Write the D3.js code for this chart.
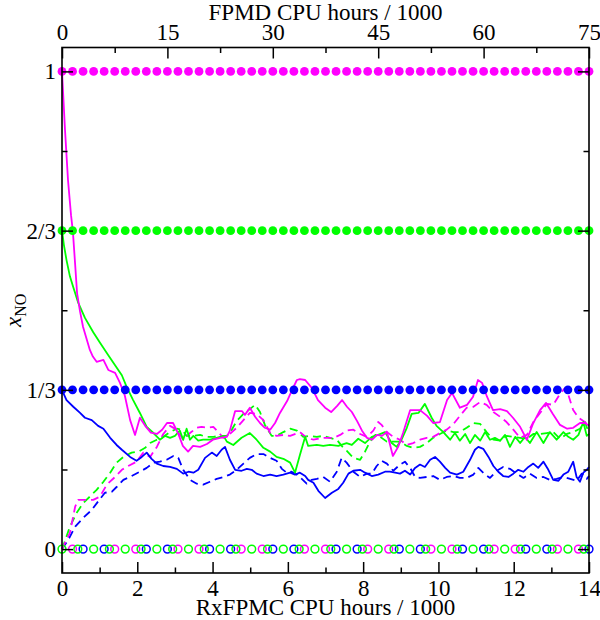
<!DOCTYPE html>
<html><head><meta charset="utf-8">
<script src="https://cdn.jsdelivr.net/npm/d3@7"></script>
<style>html,body{margin:0;padding:0;background:#fff;}svg{display:block;}</style>
</head><body>
<div id="chart"></div>
<script>
// ---------------- data ----------------
const bottomTicks = [0, 2, 4, 6, 8, 10, 12, 14];
const bottomMinor = [1, 3, 5, 7, 9, 11, 13];
const topTicks = [0, 15, 30, 45, 60, 75];
const topMinor = [7.5, 22.5, 37.5, 52.5, 67.5];
const yTicks = [0, 1/3, 2/3, 1];
const yTickLabels = ["0", "1/3", "2/3", "1"];
const yMinor = [1/6, 1/2, 5/6];

// FPMD fixed-composition markers (x positions, RxFPMC hours/1000)
const dotX = [0,0.28,0.56,0.84,1.12,1.4,1.68,1.96,2.24,2.52,2.8,3.08,3.36,3.64,3.92,4.2,4.48,4.76,5.04,5.32,5.6,5.88,6.16,6.44,6.72,7,7.28,7.56,7.84,8.12,8.4,8.68,8.96,9.24,9.52,9.8,10.08,10.36,10.64,10.92,11.2,11.48,11.76,12.04,12.32,12.6,12.88,13.16,13.44,13.72,14];
const dotLevels = [1, 2/3, 1/3];
const zeroGreenX = [0,0.42,0.84,1.26,1.68,2.1,2.52,2.94,3.36,3.78,4.2,4.62,5.04,5.46,5.88,6.3,6.72,7.14,7.56,7.98,8.4,8.82,9.24,9.66,10.08,10.5,10.92,11.34,11.76,12.18,12.6,13.02,13.44,13.86];
const zeroBlueX = [0.56,1.12,2.24,2.8,3.92,4.48,5.6,6.16,7.28,7.84,8.96,9.52,10.64,11.2,12.32,12.88,14];
const zeroMagentaX = [0.28,1.4,1.96,3.08,3.64,4.76,5.32,6.44,7.0,8.12,8.68,9.8,10.36,11.48,12.04,13.16,13.72];

// RxFPMC series [hours/1000, x_NO]
const magentaSolid = [[0,1.0],[0.08,0.877],[0.16,0.772],[0.24,0.699],[0.29,0.664],[0.35,0.595],[0.40,0.536],[0.48,0.497],[0.56,0.465],[0.66,0.438],[0.74,0.417],[0.82,0.403],[0.92,0.392],[1.10,0.396],[1.23,0.375],[1.41,0.369],[1.54,0.348],[1.67,0.321],[1.81,0.270],[1.94,0.239],[2.07,0.275],[2.21,0.258],[2.36,0.244],[2.52,0.241],[2.66,0.250],[2.79,0.264],[2.95,0.264],[3.08,0.243],[3.21,0.216],[3.35,0.204],[3.48,0.216],[3.67,0.214],[3.85,0.220],[4.01,0.229],[4.20,0.233],[4.38,0.235],[4.46,0.248],[4.60,0.289],[4.78,0.289],[4.86,0.281],[4.99,0.296],[5.13,0.277],[5.26,0.264],[5.39,0.254],[5.53,0.250],[5.66,0.264],[5.79,0.285],[5.98,0.310],[6.11,0.333],[6.24,0.354],[6.32,0.356],[6.46,0.354],[6.64,0.337],[6.80,0.312],[6.99,0.296],[7.15,0.287],[7.31,0.300],[7.44,0.312],[7.57,0.298],[7.70,0.287],[7.84,0.268],[7.97,0.248],[8.10,0.233],[8.24,0.229],[8.37,0.239],[8.50,0.237],[8.63,0.245],[8.79,0.195],[8.93,0.214],[9.06,0.243],[9.25,0.291],[9.51,0.291],[9.70,0.279],[9.86,0.264],[10.04,0.266],[10.23,0.312],[10.36,0.327],[10.57,0.296],[10.76,0.302],[10.92,0.319],[11.05,0.354],[11.16,0.348],[11.29,0.319],[11.45,0.291],[11.64,0.293],[11.82,0.289],[11.98,0.275],[12.17,0.256],[12.35,0.229],[12.51,0.262],[12.70,0.291],[12.86,0.306],[13.04,0.283],[13.23,0.260],[13.42,0.252],[13.58,0.254],[13.76,0.264],[13.89,0.264],[14,0.258]];

const greenSolid = [[0,0.667],[0.05,0.637],[0.12,0.605],[0.21,0.571],[0.30,0.548],[0.43,0.516],[0.61,0.484],[0.83,0.454],[1.01,0.432],[1.23,0.406],[1.41,0.385],[1.59,0.364],[1.72,0.339],[1.89,0.312],[2.07,0.285],[2.25,0.256],[2.43,0.243],[2.60,0.229],[2.74,0.237],[2.87,0.233],[3.00,0.237],[3.13,0.248],[3.22,0.229],[3.31,0.252],[3.40,0.229],[3.49,0.237],[3.62,0.227],[3.75,0.229],[3.93,0.229],[4.11,0.233],[4.29,0.237],[4.38,0.225],[4.55,0.218],[4.77,0.233],[4.99,0.243],[5.17,0.229],[5.35,0.212],[5.53,0.204],[5.70,0.193],[5.88,0.189],[6.06,0.181],[6.19,0.160],[6.32,0.197],[6.46,0.235],[6.54,0.216],[6.77,0.218],[6.94,0.216],[7.12,0.218],[7.34,0.216],[7.56,0.222],[7.70,0.218],[7.87,0.231],[8.05,0.222],[8.23,0.235],[8.40,0.239],[8.58,0.245],[8.76,0.222],[8.89,0.214],[9.02,0.229],[9.16,0.254],[9.29,0.283],[9.47,0.285],[9.64,0.304],[9.82,0.275],[9.95,0.258],[10.13,0.245],[10.31,0.229],[10.44,0.243],[10.57,0.227],[10.71,0.241],[10.84,0.222],[10.97,0.239],[11.11,0.227],[11.24,0.245],[11.37,0.229],[11.50,0.233],[11.64,0.227],[11.77,0.239],[11.90,0.214],[12.04,0.235],[12.17,0.222],[12.30,0.235],[12.43,0.222],[12.61,0.245],[12.79,0.222],[12.96,0.245],[13.14,0.229],[13.32,0.245],[13.45,0.235],[13.58,0.229],[13.72,0.239],[13.85,0.266],[13.94,0.237],[14,0.241]];

const blueSolid = [[0,0.333],[0.12,0.312],[0.30,0.298],[0.48,0.285],[0.61,0.275],[0.79,0.270],[0.96,0.258],[1.10,0.252],[1.28,0.233],[1.45,0.218],[1.59,0.208],[1.81,0.193],[1.98,0.185],[2.12,0.193],[2.25,0.202],[2.38,0.189],[2.52,0.179],[2.69,0.174],[2.87,0.172],[3.05,0.168],[3.22,0.158],[3.36,0.162],[3.49,0.160],[3.62,0.166],[3.80,0.191],[3.98,0.202],[4.11,0.195],[4.24,0.208],[4.33,0.214],[4.46,0.187],[4.60,0.166],[4.77,0.164],[4.91,0.168],[5.04,0.166],[5.17,0.158],[5.35,0.153],[5.53,0.156],[5.70,0.153],[5.88,0.156],[6.06,0.160],[6.19,0.156],[6.32,0.160],[6.46,0.153],[6.54,0.145],[6.68,0.139],[6.81,0.122],[6.99,0.107],[7.17,0.118],[7.34,0.126],[7.47,0.139],[7.61,0.158],[7.74,0.164],[7.92,0.166],[8.05,0.160],[8.23,0.153],[8.40,0.156],[8.58,0.162],[8.71,0.162],[8.85,0.160],[8.98,0.158],[9.11,0.164],[9.25,0.156],[9.38,0.170],[9.51,0.177],[9.64,0.172],[9.78,0.187],[9.91,0.193],[10.04,0.183],[10.18,0.170],[10.31,0.160],[10.49,0.156],[10.66,0.162],[10.84,0.187],[10.97,0.208],[11.06,0.214],[11.19,0.210],[11.33,0.193],[11.46,0.174],[11.59,0.162],[11.72,0.153],[11.86,0.151],[11.99,0.158],[12.12,0.166],[12.26,0.162],[12.39,0.172],[12.52,0.179],[12.65,0.170],[12.79,0.183],[12.92,0.166],[13.05,0.145],[13.19,0.143],[13.32,0.156],[13.45,0.162],[13.58,0.183],[13.67,0.151],[13.76,0.141],[13.85,0.160],[13.94,0.166],[14,0.172]];

const magentaDashed = [[0,0],[0.11,0.018],[0.21,0.034],[0.35,0.089],[0.43,0.103],[0.61,0.103],[0.83,0.103],[1.01,0.110],[1.19,0.135],[1.41,0.151],[1.59,0.166],[1.76,0.174],[1.98,0.183],[2.16,0.202],[2.34,0.193],[2.52,0.214],[2.69,0.241],[2.87,0.258],[3.05,0.250],[3.22,0.229],[3.40,0.243],[3.58,0.254],[3.71,0.256],[3.84,0.254],[4.02,0.256],[4.15,0.245],[4.29,0.233],[4.46,0.241],[4.64,0.254],[4.82,0.270],[4.99,0.285],[5.17,0.283],[5.35,0.270],[5.53,0.243],[5.70,0.237],[5.88,0.239],[6.06,0.237],[6.32,0.245],[6.50,0.233],[6.68,0.229],[6.94,0.233],[7.21,0.233],[7.39,0.239],[7.56,0.248],[7.74,0.250],[7.92,0.241],[8.10,0.235],[8.27,0.248],[8.40,0.266],[8.49,0.260],[8.63,0.245],[8.80,0.235],[8.98,0.229],[9.16,0.218],[9.33,0.222],[9.51,0.229],[9.69,0.233],[9.86,0.235],[10.04,0.243],[10.22,0.250],[10.40,0.262],[10.57,0.279],[10.75,0.296],[10.93,0.298],[11.11,0.308],[11.28,0.302],[11.46,0.287],[11.64,0.277],[11.81,0.266],[11.99,0.250],[12.17,0.233],[12.35,0.239],[12.52,0.266],[12.70,0.285],[12.88,0.304],[13.05,0.302],[13.23,0.325],[13.36,0.337],[13.45,0.323],[13.58,0.291],[13.72,0.275],[13.85,0.268],[14,0.260]];

const greenDashed = [[0,0],[0.03,0.006],[0.21,0.047],[0.39,0.076],[0.57,0.097],[0.74,0.110],[0.92,0.124],[1.10,0.141],[1.28,0.160],[1.45,0.181],[1.63,0.193],[1.85,0.202],[2.03,0.204],[2.21,0.212],[2.34,0.222],[2.52,0.229],[2.69,0.235],[2.87,0.245],[3.05,0.252],[3.18,0.250],[3.31,0.237],[3.49,0.237],[3.67,0.239],[3.84,0.235],[4.02,0.235],[4.20,0.237],[4.38,0.237],[4.51,0.250],[4.64,0.268],[4.82,0.283],[4.99,0.293],[5.13,0.302],[5.26,0.287],[5.39,0.260],[5.57,0.237],[5.70,0.237],[5.88,0.245],[6.06,0.252],[6.24,0.248],[6.41,0.235],[6.59,0.237],[6.77,0.235],[6.94,0.237],[7.12,0.233],[7.30,0.229],[7.43,0.216],[7.56,0.206],[7.74,0.191],[7.92,0.187],[8.05,0.204],[8.18,0.225],[8.32,0.239],[8.45,0.235],[8.63,0.225],[8.80,0.225],[8.98,0.225],[9.16,0.216],[9.33,0.212],[9.51,0.214],[9.69,0.222],[9.86,0.233],[10.04,0.241],[10.22,0.248],[10.40,0.245],[10.57,0.245],[10.75,0.254],[10.93,0.264],[11.11,0.262],[11.28,0.245],[11.46,0.229],[11.64,0.227],[11.81,0.237],[11.99,0.235],[12.17,0.233],[12.35,0.231],[12.52,0.241],[12.70,0.241],[12.88,0.243],[13.05,0.245],[13.23,0.231],[13.41,0.241],[13.58,0.245],[13.76,0.252],[13.89,0.266],[14,0.243]];

const blueDashed = [[0,0],[0.17,0.020],[0.35,0.047],[0.57,0.066],[0.79,0.082],[1.01,0.105],[1.14,0.118],[1.32,0.120],[1.45,0.130],[1.63,0.145],[1.85,0.153],[2.07,0.162],[2.25,0.170],[2.43,0.181],[2.60,0.183],[2.78,0.187],[2.96,0.195],[3.09,0.191],[3.22,0.166],[3.40,0.145],[3.58,0.137],[3.75,0.135],[3.93,0.141],[4.11,0.147],[4.29,0.151],[4.46,0.156],[4.64,0.166],[4.82,0.179],[4.99,0.191],[5.17,0.199],[5.35,0.199],[5.53,0.191],[5.70,0.185],[5.84,0.168],[5.97,0.160],[6.10,0.162],[6.24,0.156],[6.37,0.147],[6.50,0.137],[6.63,0.145],[6.77,0.147],[6.94,0.151],[7.12,0.141],[7.30,0.162],[7.43,0.191],[7.56,0.181],[7.74,0.162],[7.92,0.151],[8.10,0.158],[8.23,0.158],[8.36,0.174],[8.49,0.185],[8.63,0.179],[8.80,0.164],[8.98,0.177],[9.11,0.183],[9.25,0.170],[9.38,0.151],[9.51,0.149],[9.69,0.151],[9.86,0.153],[10.04,0.145],[10.22,0.151],[10.40,0.153],[10.57,0.149],[10.75,0.149],[10.93,0.156],[11.06,0.170],[11.24,0.156],[11.37,0.149],[11.55,0.164],[11.72,0.172],[11.90,0.168],[12.08,0.158],[12.26,0.149],[12.43,0.158],[12.61,0.149],[12.79,0.151],[12.96,0.145],[13.14,0.147],[13.32,0.151],[13.50,0.147],[13.67,0.143],[13.81,0.158],[13.94,0.147],[14,0.153]];

const colors = { magenta: "#ff00ff", green: "#00ff00", blue: "#0000ff" };

// ---------------- drawing ----------------
const W = 600, H = 620;
const L = 62, R = 589, T = 47.5, B = 573;
const svg = d3.select("#chart").append("svg").attr("width", W).attr("height", H);
const font = "'Liberation Serif', 'Times New Roman', serif";

const x = d3.scaleLinear().domain([0, 14]).range([L, R]);
const xTop = d3.scaleLinear().domain([0, 75]).range([L, R]);
const y = d3.scaleLinear().domain([-0.05, 1.05]).range([B, T]);

const line = d3.line().x(d => x(d[0])).y(d => y(d[1]));

const series = [
  { data: blueDashed, color: colors.blue, dash: "8,5" },
  { data: greenDashed, color: colors.green, dash: "8,5" },
  { data: magentaDashed, color: colors.magenta, dash: "8,5" },
  { data: blueSolid, color: colors.blue, dash: null },
  { data: greenSolid, color: colors.green, dash: null },
  { data: magentaSolid, color: colors.magenta, dash: null }
];
svg.append("g").selectAll("path").data(series).join("path")
  .attr("d", d => line(d.data))
  .attr("fill", "none")
  .attr("stroke", d => d.color)
  .attr("stroke-width", 1.8)
  .attr("stroke-linejoin", "round")
  .attr("stroke-dasharray", d => d.dash);

// filled marker rows
const rowColors = [colors.magenta, colors.green, colors.blue];
dotLevels.forEach((lv, i) => {
  svg.append("g").selectAll("circle").data(dotX).join("circle")
    .attr("cx", d => x(d)).attr("cy", y(lv)).attr("r", 4.4)
    .attr("fill", rowColors[i]);
});

// open markers at zero
[[zeroMagentaX, colors.magenta], [zeroBlueX, colors.blue], [zeroGreenX, colors.green]].forEach(([arr, c]) => {
  svg.append("g").selectAll("circle").data(arr).join("circle")
    .attr("cx", d => x(d)).attr("cy", y(0)).attr("r", 3.9)
    .attr("fill", "none").attr("stroke", c).attr("stroke-width", 1.5);
});

// axes
function styleAxis(g) {
  g.select(".domain").remove();
  g.selectAll(".tick line").attr("stroke", "#000").attr("stroke-width", 1.5);
  g.selectAll(".tick text").attr("font-family", font).attr("font-size", 23).attr("fill", "#000");
}
const major = 11, minor = 5.5;
svg.append("g").attr("transform", `translate(0,${B})`)
  .call(d3.axisBottom(x).tickValues(bottomTicks).tickSize(-major).tickSizeOuter(0).tickPadding(7).tickFormat(d3.format("d")))
  .call(styleAxis);
svg.append("g").attr("transform", `translate(0,${B})`)
  .call(d3.axisBottom(x).tickValues(bottomMinor).tickSize(-minor).tickSizeOuter(0).tickFormat(""))
  .call(styleAxis);
svg.append("g").attr("transform", `translate(0,${T})`)
  .call(d3.axisTop(xTop).tickValues(topTicks).tickSize(-major).tickSizeOuter(0).tickPadding(7.5).tickFormat(d3.format("d")))
  .call(styleAxis);
svg.append("g").attr("transform", `translate(0,${T})`)
  .call(d3.axisTop(xTop).tickValues(topMinor).tickSize(-minor).tickSizeOuter(0).tickFormat(""))
  .call(styleAxis);
svg.append("g").attr("transform", `translate(${L},0)`)
  .call(d3.axisLeft(y).tickValues(yTicks).tickSize(-major).tickSizeOuter(0).tickPadding(6)
    .tickFormat((d, i) => yTickLabels[i]))
  .call(styleAxis);
svg.append("g").attr("transform", `translate(${L},0)`)
  .call(d3.axisLeft(y).tickValues(yMinor).tickSize(-minor).tickSizeOuter(0).tickFormat(""))
  .call(styleAxis);
svg.append("g").attr("transform", `translate(${R},0)`)
  .call(d3.axisRight(y).tickValues(yTicks).tickSize(-major).tickSizeOuter(0).tickFormat(""))
  .call(styleAxis);
svg.append("g").attr("transform", `translate(${R},0)`)
  .call(d3.axisRight(y).tickValues(yMinor).tickSize(-minor).tickSizeOuter(0).tickFormat(""))
  .call(styleAxis);

// frame
svg.append("rect").attr("x", L).attr("y", T).attr("width", R - L).attr("height", B - T)
  .attr("fill", "none").attr("stroke", "#000").attr("stroke-width", 1.6);

// titles
svg.append("text").attr("x", (L + R) / 2).attr("y", 19.5).attr("text-anchor", "middle")
  .attr("font-family", font).attr("font-size", 23).text("FPMD CPU hours / 1000");
svg.append("text").attr("x", (L + R) / 2).attr("y", 615).attr("text-anchor", "middle")
  .attr("font-family", font).attr("font-size", 23).text("RxFPMC CPU hours / 1000");
const yl = svg.append("text").attr("transform", `translate(21,${(T + B) / 2}) rotate(-90)`)
  .attr("text-anchor", "middle").attr("font-family", font).attr("font-size", 23);
yl.append("tspan").attr("font-style", "italic").text("x");
yl.append("tspan").attr("font-size", 16).attr("dy", 5).text("NO");
</script>
</body></html>
